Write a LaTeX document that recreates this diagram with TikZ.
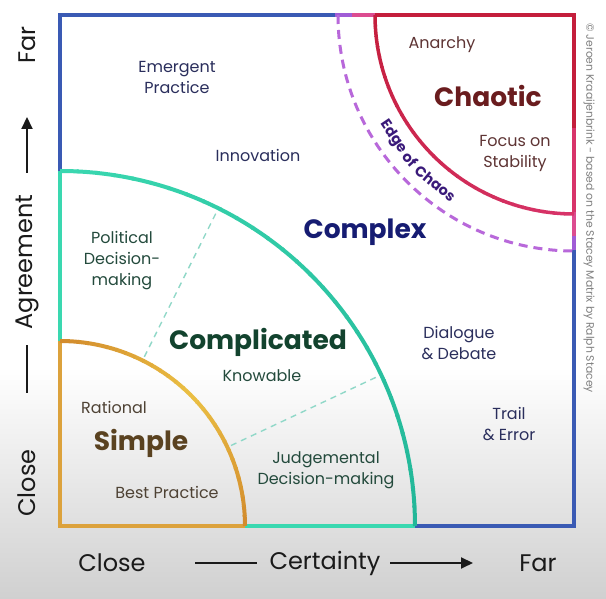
\documentclass[tikz,border=0pt]{standalone}
\usepackage{fontspec}
\setmainfont{Poppins}
\usetikzlibrary{arrows.meta,calc}
\definecolor{bggray}{HTML}{D0D0D0}
\definecolor{blueb}{HTML}{3A5AB4}
\definecolor{purpb}{HTML}{A05CD6}
\definecolor{pinkb}{HTML}{DC4C90}
\definecolor{redb}{HTML}{C41E3C}
\definecolor{redpink}{HTML}{D8346A}
\definecolor{tealA}{HTML}{3AD8B0}
\definecolor{tealB}{HTML}{22B698}
\definecolor{sorange}{HTML}{D28A2C}
\definecolor{syellow}{HTML}{EBC044}
\definecolor{sgold}{HTML}{DCA23C}
\definecolor{edgedash}{HTML}{B868DA}
\definecolor{edgetext}{HTML}{3A1A7A}
\definecolor{dashcol}{HTML}{90D8C8}
\definecolor{navytext}{HTML}{2A2E5C}
\definecolor{complexcol}{HTML}{161C72}
\definecolor{greentext}{HTML}{234A3C}
\definecolor{complcol}{HTML}{12432E}
\definecolor{simplecol}{HTML}{5A4220}
\definecolor{browntext}{HTML}{4E4234}
\definecolor{chaoticcol}{HTML}{6A1C1E}
\definecolor{redtext}{HTML}{5E3434}
\definecolor{axiscol}{HTML}{1A1A1A}
\begin{document}
\begin{tikzpicture}[x=1pt,y=1pt,
  lab/.style={font=\fontsize{16}{21}\selectfont, align=center, inner sep=0},
  big/.style={font=\fontsize{26.5}{30}\selectfont\bfseries, inner sep=0},
  axislab/.style={font=\fontsize{24}{26}\selectfont, inner sep=0, text=axiscol},
  axisline/.style={draw=axiscol, line width=2},
  border/.style={line width=3.5, line join=miter},
  edgeword/.style={font=\fontsize{14.5}{16}\selectfont\bfseries, text=edgetext, inner sep=0},
]
\useasboundingbox (0,0) rectangle (606,599);
\fill[white] (0,0) rectangle (606,599);
\shade[top color=white, bottom color=bggray] (0,0) rectangle (606,232);

% outer square
\draw[border, blueb] (60,73) rectangle (574,584);
\draw[border, purpb] (335,584) -- (352,584);
\draw[border, pinkb] (352,584) -- (376,584);
\draw[border, redb] (375,584) -- (574,584) -- (574,470);
\draw[border, redpink] (574,470.5) -- (574,386);
\draw[border, pinkb] (574,386.5) -- (574,362);
\draw[border, purpb] (574,362.5) -- (574,349);

% complicated region
\draw[border, tealA] (60,428) -- (60,73) -- (415,73);
\foreach \a in {0,3,...,87} {
  \pgfmathsetmacro\p{(\a+1.5)/90*100}
  \pgfmathsetmacro\e{min(\a+3.3,90)}
  \draw[line width=4, color=tealA!\p!tealB] (60,73) ++(\a:355) arc[start angle=\a, end angle=\e, radius=355];
}
% simple region
\draw[border, sgold] (60,258) -- (60,73) -- (245,73);
\foreach \a in {0,3,...,87} {
  \pgfmathsetmacro\p{abs(\a+1.5-45)/45*100}
  \pgfmathsetmacro\e{min(\a+3.4,90)}
  \draw[line width=4, color=sorange!\p!syellow] (60,73) ++(\a:185) arc[start angle=\a, end angle=\e, radius=185];
}
% dashed dividers in complicated
\draw[dashcol, dash pattern=on 6 off 5, line width=1.4] ($(60,73)+(63.5:189)$) -- ($(60,73)+(63.5:352)$);
\draw[dashcol, dash pattern=on 6 off 5, line width=1.4] ($(60,73)+(25.2:189)$) -- ($(60,73)+(25.2:352)$);

% chaotic arc
\foreach \a in {180,183,...,267} {
  \pgfmathsetmacro\p{100-(\a-178.5)/90*100}
  \pgfmathsetmacro\e{min(\a+3.3,270)}
  \draw[line width=3.5, color=redb!\p!redpink] (574,584) ++(\a:199) arc[start angle=\a, end angle=\e, radius=199];
}
% edge of chaos
\draw[edgedash, line width=3, dash pattern=on 9 off 6] (574,584) ++(180:236) arc[start angle=180, end angle=270, radius=236];
\node[edgeword, rotate=304-360] (edge1) at ($(574,584)+(214:218)$) {Edge};
\node[edgeword, rotate=311.5-360] (edge2) at ($(574,584)+(221.5:218)$) {of};
\node[edgeword, rotate=320.5-360] (edge3) at ($(574,584)+(230.5:218)$) {Chaos};

% region titles
\node[big, text=complexcol] (complex) at (365,367) {Complex};
\node[big, text=complcol] (complicated) at (258,257) {Complicated};
\node[big, text=simplecol] (simple) at (141,156) {Simple};
\node[big, text=chaoticcol] (chaotic) at (488,503) {Chaotic};

% labels
\node[lab, text=navytext] (emergent) at (177,522) {Emergent\\Practice};
\node[lab, text=navytext] (innov) at (258,444) {Innovation};
\node[lab, text=navytext] (dialogue) at (459,256) {Dialogue\\\& Debate};
\node[lab, text=navytext] (trail) at (509,175) {Trail\\\& Error};
\node[lab, text=redtext] (anarchy) at (442,554) {Anarchy};
\node[lab, text=redtext] (focus) at (515,446) {Focus on\\Stability};
\node[lab, text=greentext] (political) at (122,338) {Political\\Decision-\\making};
\node[lab, text=greentext] (knowable) at (262,223) {Knowable};
\node[lab, text=greentext] (judge) at (326,129) {Judgemental\\Decision-making};
\node[lab, text=browntext] (rational) at (114,192) {Rational};
\node[lab, text=browntext] (best) at (167,107) {Best Practice};

% copyright
\node[rotate=-90, font=\fontsize{10.8}{12}\selectfont, text=gray, inner sep=0] (copy) at (589,391)
  {© Jeroen Kraaijenbrink - based on the Stacey Matrix by Ralph Stacey};

% axes
\node[axislab, rotate=90] (yfar) at (27,554) {Far};
\node[axislab, rotate=90] (yagr) at (27,337) {Agreement};
\node[axislab, rotate=90] (yclose) at (27,116) {Close};
\coordinate (ya1) at (27,206); \coordinate (ya2) at (27,254);
\coordinate (yb1) at (27,426); \coordinate (yb2) at (27,482);
\draw[axisline] (ya1) -- (ya2);
\draw[axisline, -{Triangle[length=12,width=11]}] (yb1) -- (yb2);

\node[axislab] (xclose) at (112,36) {Close};
\node[axislab] (xcert) at (325,36) {Certainty};
\node[axislab] (xfar) at (538,36) {Far};
\coordinate (xa1) at (195,36); \coordinate (xa2) at (257,36);
\coordinate (xb1) at (390,36); \coordinate (xb2) at (473,36);
\draw[axisline] (xa1) -- (xa2);
\draw[axisline, -{Triangle[length=12,width=11]}] (xb1) -- (xb2);
\end{tikzpicture}
\end{document}
